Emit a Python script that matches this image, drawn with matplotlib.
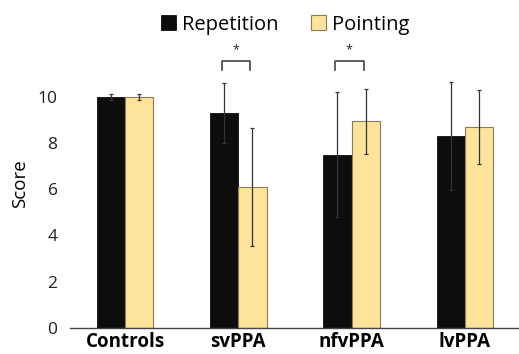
import numpy as np
import matplotlib.pyplot as plt

plt.rcParams['font.family'] = ['Open Sans', 'DejaVu Sans']

groups = ['Controls', 'svPPA', 'nfvPPA', 'lvPPA']
repetition = [10.0, 9.3, 7.5, 8.3]
repetition_err = [0.15, 1.3, 2.7, 2.35]
pointing = [10.0, 6.1, 8.95, 8.7]
pointing_err = [0.15, 2.55, 1.4, 1.6]
significant = ['svPPA', 'nfvPPA']

fig = plt.figure(figsize=(5.19, 3.54), dpi=100)
ax = fig.add_axes([0.135, 0.074, 0.865, 0.815])

x = np.arange(len(groups))
w = 0.25
err_kw = dict(ecolor='#333333', elinewidth=0.9, capsize=1.5, capthick=0.9)
ax.bar(x - w / 2, repetition, w, yerr=repetition_err, color='#0d0d0d',
       edgecolor='#0d0d0d', linewidth=0.6, label='Repetition', error_kw=err_kw)
ax.bar(x + w / 2, pointing, w, yerr=pointing_err, color='#fde49a',
       edgecolor='#8c7d55', linewidth=0.8, label='Pointing', error_kw=err_kw)

# significance brackets
for g in significant:
    i = groups.index(g)
    ax.plot([i - w / 2 - 0.02, i - w / 2 - 0.02, i + w / 2 - 0.02, i + w / 2 - 0.02],
            [11.15, 11.55, 11.55, 11.15], color='#444444', lw=1.2)
    ax.text(i - 0.02, 12.05, '*', ha='center', va='center', fontsize=9, color='#222222')

ax.set_xlim(-0.485, 3.477)
ax.set_ylim(0, 12.5)
ax.set_yticks([0, 2, 4, 6, 8, 10])
ax.set_xticks(x)
ax.set_xticklabels(groups, fontweight='bold', fontsize=13.5)
ax.tick_params(axis='y', length=0, labelsize=12.5, pad=9, colors='#222222')
ax.tick_params(axis='x', length=0, pad=3)
for s in ['top', 'right', 'left']:
    ax.spines[s].set_visible(False)
ax.spines['bottom'].set_color('#444444')
ax.spines['bottom'].set_linewidth(1.0)
ax.set_ylabel('Score', fontsize=13.5, labelpad=6)

fig.legend(loc='upper center', bbox_to_anchor=(0.55, 1.01), ncol=2, frameon=False,
           fontsize=14.5, handlelength=0.75, handleheight=0.75, handletextpad=0.3,
           columnspacing=1.6)

fig.savefig('out.png', dpi=100)
